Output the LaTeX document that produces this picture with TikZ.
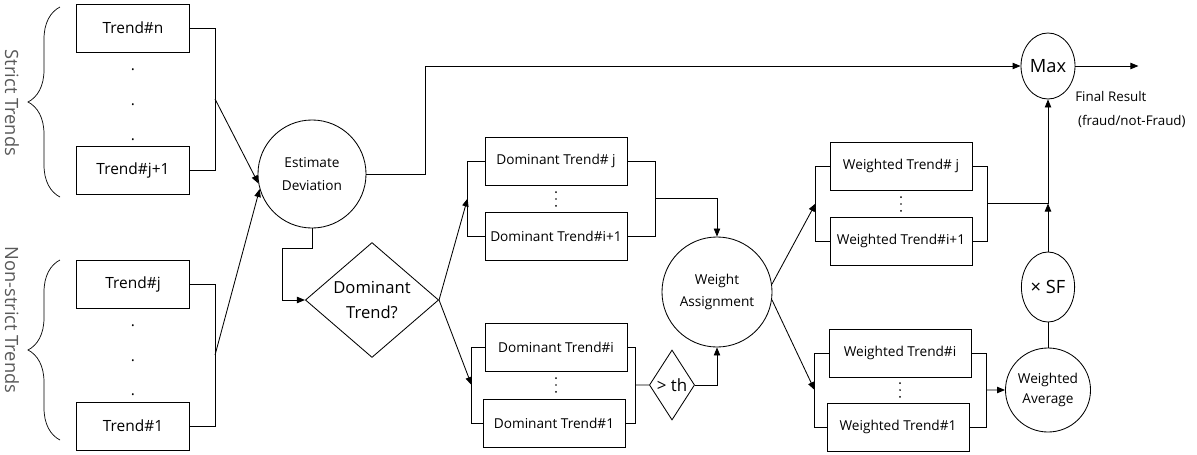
\documentclass[tikz,border=0pt]{standalone}
\usepackage{fontspec}
\setmainfont{Open Sans}
\usetikzlibrary{arrows.meta,positioning,shapes.geometric,calc,decorations.pathreplacing}

\begin{document}
\begin{tikzpicture}[
    x=0.025cm, y=-0.025cm,
    trend/.style={draw, line width=0.6pt, minimum width=2.83cm, minimum height=1.2cm, font=\fontsize{11}{13}\selectfont},
    dbox/.style={draw, line width=0.6pt, minimum width=3.55cm, minimum height=1.2cm, font=\fontsize{9.7}{11}\selectfont},
    circ/.style={draw, line width=0.6pt, circle, minimum size=#1, inner sep=0pt, align=center, font=\fontsize{9.7}{16}\selectfont},
    oval/.style={draw, line width=0.6pt, ellipse, inner sep=0pt, align=center},
    dot/.style={inner sep=0pt, font=\fontsize{11}{11}\selectfont},
    vdot/.style={minimum width=4pt, minimum height=0.45cm, inner sep=0pt,
        path picture={\foreach \d in {-1,0,1} \fill ([yshift=\d*0.17cm]path picture bounding box.center) circle (0.7pt);}},
    arrow/.style={-{Triangle[length=2mm, width=1.6mm]}, line width=0.6pt},
    link/.style={line width=0.6pt},
    side/.style={rotate=-90, text=black!65, font=\fontsize{13}{15}\selectfont},
    brace/.style={decorate, decoration={brace, amplitude=0.8cm}, line width=0.5pt},
]
\useasboundingbox (0,0) rectangle (1197,454);

% input trends
\node[trend] (tn) at (133,28) {Trend\#n};
\foreach \y [count=\k] in {70,105,140} \node[dot] (sd\k) at (133,\y) {.};
\node[trend] (tj1) at (133,170) {Trend\#j+1};
\node[trend] (tj) at (133,284) {Trend\#j};
\foreach \y [count=\k] in {326,361,395} \node[dot] (nd\k) at (133,\y) {.};
\node[trend] (t1) at (133,426) {Trend\#1};

\draw[brace] (60,197) -- (60,7);
\draw[brace] (60,440) -- (60,260);
\node[side] (strict) at (12,103) {Strict Trends};
\node[side] (nonstrict) at (12,320) {Non-strict Trends};

\node[circ=2.7cm] (est) at (312,174) {Estimate\\Deviation};
\draw[link] (tn.east) -- ++(25,0) coordinate (sa) |- (tj1.east);
\draw[link] (tj.east) -- ++(25,0) coordinate (na) |- (t1.east);
\draw[arrow] ($(sa)!0.5!(sa|-tj1.east)$) -- (est.190);
\draw[arrow] ($(na)!0.5!(na|-t1.east)$) -- (est.196);

\node[oval, minimum width=1.35cm, minimum height=1.65cm, font=\fontsize{13}{15}\selectfont] (max) at (1048,66) {Max};
\draw[arrow] (est.east) -- ++(59,0) |- (max.west);
\draw[arrow] (max.east) -- ++(63,0) coordinate (out);
\node[anchor=north west, align=left, inner sep=0pt, font=\fontsize{9.5}{17}\selectfont] (res) at (1075,91) {Final Result\\\hspace{2pt}(fraud/not-Fraud)};

\node[draw, line width=0.6pt, diamond, minimum width=3.33cm, minimum height=2.85cm, inner sep=0pt, align=center, font=\fontsize{11.8}{18}\selectfont] (dom) at (372,300) {Dominant\\Trend?};
\draw[arrow] (est.south) -- ++(0,20) -| ($(dom.west)+(-23,0)$) -- (dom.west);

% dominant trends
\node[dbox] (dj) at (556,161) {Dominant Trend\# j};
\node[vdot] (djd) at (556,199) {};
\node[dbox] (di1) at (556,236) {Dominant Trend\#i+1};
\draw[link] (dj.west) -- ++(-17,0) coordinate (dl) |- (di1.west);
\draw[link] (dj.east) -- ++(28,0) coordinate (dr) |- (di1.east);
\draw[arrow] (dom.east) -- ($(dl)!0.5!(dl|-di1.west)$);

\node[dbox] (di) at (556,347) {Dominant Trend\#i};
\node[vdot] (did) at (556,385) {};
\node[dbox] (d1) at (554,423) {Dominant Trend\#1};
\draw[link] (di.west) -- ++(-13,0) coordinate (bl) |- (d1.west);
\draw[link] (di.east) -- ++(8,0) coordinate (br) |- (d1.east);
\draw[arrow] (dom.east) -- ($(bl)!0.5!(bl|-d1.west)$);

\node[circ=2.75cm] (wa) at (717,292) {Weight\\Assignment};
\node[draw, line width=0.6pt, diamond, minimum width=1.13cm, minimum height=1.75cm, inner sep=0pt, font=\fontsize{12}{14}\selectfont] (th) at (672,385) {> th};
\draw[arrow] ($(dr)!0.5!(dr|-di1.east)$) -| (wa.north);
\draw[link] ($(br)!0.5!(br|-d1.east)$) -- (th.west);
\draw[arrow] (th.east) -| (wa.south);

% weighted trends
\node[dbox] (wj) at (901,166) {Weighted Trend\# j};
\node[vdot] (wjd) at (901,204) {};
\node[dbox] (wi1) at (901,241) {Weighted Trend\#i+1};
\draw[link] (wj.west) -- ++(-14,0) coordinate (wl) |- (wi1.west);
\draw[link] (wj.east) -- ++(15,0) coordinate (wr) |- (wi1.east);
\draw[arrow] (wa.8) -- ($(wl)!0.5!(wl|-wi1.west)$);

\node[dbox] (wi) at (900,353) {Weighted Trend\#i};
\node[vdot] (wid) at (900,390) {};
\node[dbox] (w1) at (898,427) {Weighted Trend\#1};
\draw[link] (wi.west) -- ++(-14,0) coordinate (vl) |- (w1.west);
\draw[link] (wi.east) -- ++(15,0) coordinate (vr) |- (w1.east);
\draw[arrow] (wa.-8) -- ($(vl)!0.5!(vl|-w1.west)$);

\node[oval, minimum width=1.8cm, minimum height=2.1cm, font=\fontsize{9.7}{14}\selectfont] (wavg) at (1048,390) {Weighted\\Average};
\node[oval, minimum width=1.33cm, minimum height=1.75cm, font=\fontsize{13}{15}\selectfont] (sf) at (1048,287) {× SF};
\draw[arrow] ($(vr)!0.5!(vr|-w1.east)$) -- (wavg.west);
\draw[link] (wavg.north) -- (sf.south);
\path ($(wr)!0.5!(wr|-wi1.east)$) coordinate (wm);
\coordinate (jn) at (wm -| sf.north);
\draw[link] (wm) -- (jn);
\draw[arrow] (sf.north) -- (jn);
\draw[arrow] (jn) -- (max.south);
\end{tikzpicture}
\end{document}
